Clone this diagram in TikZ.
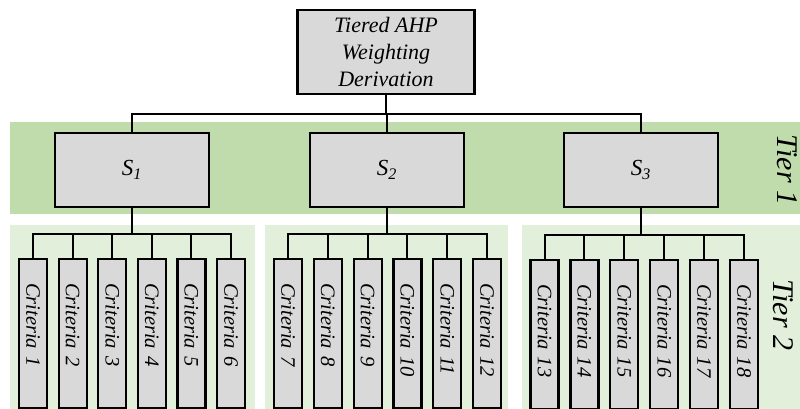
\documentclass[tikz,border=0pt]{standalone}
\usepackage{fontspec}
\setmainfont{Liberation Serif}
\definecolor{tieronegreen}{RGB}{192,220,172}
\definecolor{tiertwogreen}{RGB}{226,239,218}
\definecolor{boxgray}{RGB}{217,217,217}
\begin{document}
\begin{tikzpicture}[x=1pt,y=1pt,
  graybox/.style={draw=black,line width=2.2pt,fill=boxgray,inner sep=0pt,font=\itshape},
  critbox/.style={graybox,rotate=-90,anchor=west,minimum width=149,minimum height=28,
     text width=101,inner xsep=24,align=left,font=\itshape\fontsize{20.5}{22}\selectfont},
  link/.style={line width=2pt},
  tierlabel/.style={rotate=-90,font=\itshape\fontsize{30}{32}\selectfont,inner sep=0pt}]
\useasboundingbox (0,0) rectangle (800,-409);
% bands
\fill[tieronegreen] (10,-122) rectangle (800,-214);
\fill[tiertwogreen] (10,-225) rectangle (255,-409);
\fill[tiertwogreen] (265,-225) rectangle (508,-409);
\fill[tiertwogreen] (522,-225) rectangle (800,-409);
% top node
\node[graybox,minimum width=177,minimum height=84,align=center,
  font=\itshape\fontsize{22}{27}\selectfont] (top) at (386,-52) {Tiered AHP\\Weighting\\Derivation};
% tier 1
\foreach \n/\x in {1/132,2/387,3/641}{
  \node[graybox,minimum width=154,minimum height=74,font=\itshape\fontsize{23}{25}\selectfont]
    (s\n) at (\x,-170) {S\textsubscript{\n}};
}
\draw[link] (top.south) -- ++(0,-19) coordinate (jt);
\foreach \n in {1,2,3}{\draw[link] (s\n.north) |- (jt);}
% tier 2
\foreach \i in {1,...,6}{
  \pgfmathsetmacro{\xa}{33+39.6*(\i-1)}
  \node[critbox] (c\i) at (\xa,-258) {Criteria \i};
}
\foreach \i in {7,...,12}{
  \pgfmathsetmacro{\xa}{288+39.8*(\i-7)}
  \node[critbox] (c\i) at (\xa,-258) {Criteria \i};
}
\foreach \i in {13,...,18}{
  \pgfmathsetmacro{\xa}{544.5+39.9*(\i-13)}
  \node[critbox] (c\i) at (\xa,-259) {Criteria \i};
}
\draw[link] (s1.south) -- ++(0,-26) coordinate (j1);
\draw[link] (s2.south) -- ++(0,-26) coordinate (j2);
\draw[link] (s3.south) -- ++(0,-27) coordinate (j3);
\foreach \i in {1,...,6}{\draw[link] (c\i.west) |- (j1);}
\foreach \i in {7,...,12}{\draw[link] (c\i.west) |- (j2);}
\foreach \i in {13,...,18}{\draw[link] (c\i.west) |- (j3);}
% tier labels
\node[tierlabel] (t1) at (787,-170) {Tier 1};
\node[tierlabel] (t2) at (783,-315) {Tier 2};
\end{tikzpicture}
\end{document}
